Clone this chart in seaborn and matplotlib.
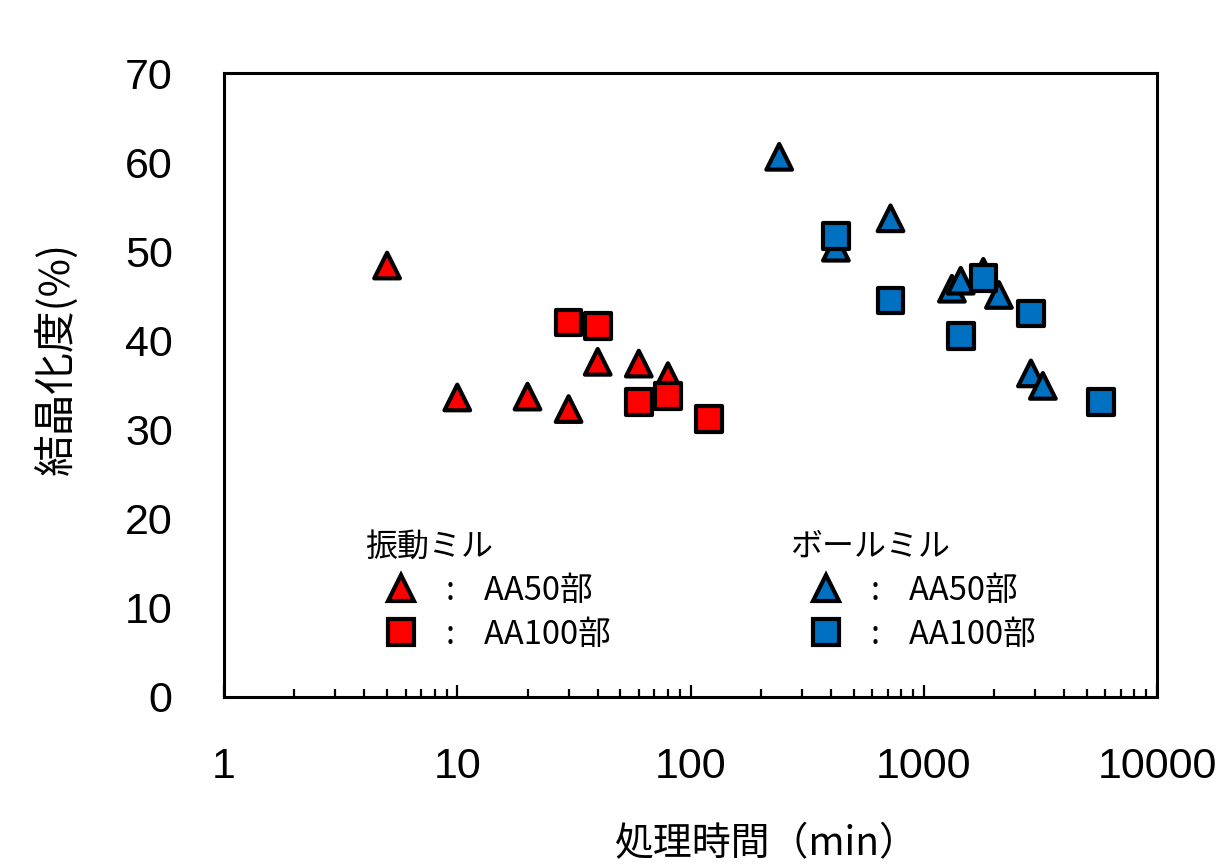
import pandas as pd
import seaborn as sns
import matplotlib.pyplot as plt
from matplotlib.lines import Line2D
from matplotlib.font_manager import FontProperties
from matplotlib.ticker import FixedLocator, LogLocator, NullFormatter

# ---- data ----
vib_a50_time = [5, 10, 20, 30, 40, 60, 80]
vib_a50_cryst = [48.4, 33.6, 33.7, 32.3, 37.6, 37.4, 36.0]
vib_a100_time = [30, 40, 60, 80, 120]
vib_a100_cryst = [42.0, 41.6, 33.1, 33.8, 31.2]
ball_a50_time = [240, 420, 720, 1320, 1440, 1800, 2100, 2880, 3240]
ball_a50_cryst = [60.6, 50.4, 53.7, 45.8, 46.7, 47.7, 45.1, 36.3, 34.9]
ball_a100_time = [420, 720, 1440, 1800, 2880, 5760]
ball_a100_cryst = [51.7, 44.5, 40.5, 47.0, 43.0, 33.1]

mills = ['振動ミル', 'ボールミル']
grades = ['AA50部', 'AA100部']
x_ticks = [1, 10, 100, 1000, 10000]
x_tick_labels = ['1', '10', '100', '1000', '10000']
y_ticks = [0, 10, 20, 30, 40, 50, 60, 70]

mill_colors = {'振動ミル': '#FF0000', 'ボールミル': '#0070C0'}
grade_markers = {'AA50部': '^', 'AA100部': 's'}

# one long table, drawn in series order (later series sit on top)
parts = [
    (vib_a50_time, vib_a50_cryst, mills[0], grades[0]),
    (vib_a100_time, vib_a100_cryst, mills[0], grades[1]),
    (ball_a50_time, ball_a50_cryst, mills[1], grades[0]),
    (ball_a100_time, ball_a100_cryst, mills[1], grades[1]),
]
df = pd.concat([pd.DataFrame({'time': t, 'cryst': c, 'mill': m, 'grade': g})
                for t, c, m, g in parts], ignore_index=True)

sns.set_style('ticks')
plt.rcParams['font.family'] = ['Liberation Sans', 'Noto Sans CJK JP', 'DejaVu Sans']
plt.rcParams['text.color'] = 'black'
jp = ['Noto Sans CJK JP', 'DejaVu Sans']

fig = plt.figure(figsize=(12.21, 8.64), dpi=100)
ax = fig.add_axes([0.1835, 0.1933, 0.7641, 0.7222])

sns.scatterplot(data=df, x='time', y='cryst', hue='mill', style='grade',
                palette=mill_colors, markers=grade_markers, s=340,
                edgecolor='black', linewidth=3, legend=False, ax=ax, zorder=3)

ax.set_xscale('log')
ax.set_xlim(1, 10000)
ax.set_ylim(0, 70)
ax.xaxis.set_major_locator(FixedLocator(x_ticks))
ax.set_xticklabels(x_tick_labels)
ax.xaxis.set_minor_locator(LogLocator(base=10, subs=range(2, 10), numticks=20))
ax.xaxis.set_minor_formatter(NullFormatter())
ax.set_yticks(y_ticks)

ax.tick_params(axis='x', which='major', direction='in', length=9, width=1.6,
               pad=36, labelsize=31, top=False, color='black', labelcolor='black')
ax.tick_params(axis='x', which='minor', direction='in', length=6, width=1.6,
               top=False, color='black')
ax.tick_params(axis='y', which='both', length=0, pad=37, labelsize=31, labelcolor='black')

for sp in ax.spines.values():
    sp.set_visible(True)
    sp.set_linewidth(2.2)
    sp.set_color('black')

ax.set_xlabel('処理時間（min）', family=jp, fontsize=28, color='black')
ax.xaxis.set_label_coords(0.582, -0.203)
ax.set_ylabel('結晶化度(%)', family=jp, fontsize=30, color='black')
ax.yaxis.set_label_coords(-0.157, 0.543)

# ---- two hand-made legends, one per mill ----
label_font = FontProperties(family=jp, size=23.5)
title_font = FontProperties(family=jp, size=23)
anchors = {'振動ミル': (0.151, 0.266), 'ボールミル': (0.607, 0.266)}
legends = []
for mill in mills:
    handles = [Line2D([], [], linestyle='none', marker=grade_markers[g], markersize=18.5,
                      markerfacecolor=mill_colors[mill], markeredgecolor='black',
                      markeredgewidth=3) for g in grades]
    labels = [':    ' + g for g in grades]
    leg = ax.legend(handles, labels, title=mill, loc='upper left',
                    bbox_to_anchor=anchors[mill], frameon=False, prop=label_font,
                    title_fontproperties=title_font, alignment='left',
                    borderpad=0, borderaxespad=0, handlelength=2.2,
                    handletextpad=0.28, labelspacing=0.36)
    legends.append(leg)
for leg in legends[:-1]:
    ax.add_artist(leg)

fig.savefig('out.png', dpi=100)
